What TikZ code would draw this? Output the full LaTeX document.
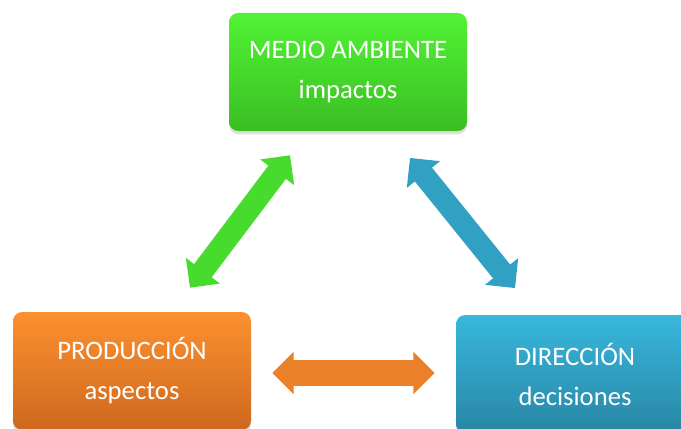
\documentclass[tikz,border=0pt]{standalone}
\usepackage{fontspec}
\setmainfont{Carlito}
\usetikzlibrary{arrows.meta,shadows}
\definecolor{verdeA}{RGB}{82,243,54}
\definecolor{verdeB}{RGB}{58,190,34}
\definecolor{naranjaA}{RGB}{252,144,48}
\definecolor{naranjaB}{RGB}{206,104,30}
\definecolor{azulA}{RGB}{56,183,221}
\definecolor{azulB}{RGB}{40,134,164}
\colorlet{verdeF}{verdeA!55!verdeB}
\colorlet{naranjaF}{naranjaA!60!naranjaB}
\colorlet{azulF}{azulA!55!azulB}

\begin{document}
\begin{tikzpicture}[
            x=0.75pt,y=-0.75pt,
            caja/.style={rectangle,rounded corners=7pt,minimum width=178.5pt,
                minimum height=88.5pt,inner sep=0pt,align=center,text=white,
                font=\fontsize{20}{30}\selectfont,
                drop shadow={opacity=0.25,shadow xshift=0pt,shadow yshift=-2.5pt}},
            flecha/.style={line width=16.5pt,
                {Triangle[length=16pt,width=31pt]}-{Triangle[length=16pt,width=31pt]}}
        ]
            \useasboundingbox (0,0) rectangle (681,428);
            % cajas
            \node [caja,top color=verdeA,bottom color=verdeB] (medio) at (348,72)
                {MEDIO AMBIENTE\\impactos};
            \node [caja,top color=naranjaA,bottom color=naranjaB] (prod) at (132,371)
                {PRODUCCIÓN\\aspectos};
            \node [caja,top color=azulA,bottom color=azulB] (dir) at (575,374)
                {DIRECCIÓN\\decisiones};
            % flechas
            \draw [flecha,verdeF] ([xshift=43.5pt,yshift=18pt]prod.north)
                -- ([xshift=-43.5pt,yshift=-18pt]medio.south);
            \draw [flecha,azulF] ([xshift=46.5pt,yshift=-20pt]medio.south)
                -- ([xshift=-45pt,yshift=20pt]dir.north);
            \draw [flecha,naranjaF,line width=19.5pt] ([xshift=15.75pt,yshift=-1.5pt]prod.east)
                -- ([xshift=-15.75pt,yshift=0.75pt]dir.west);
        \end{tikzpicture}
\end{document}
